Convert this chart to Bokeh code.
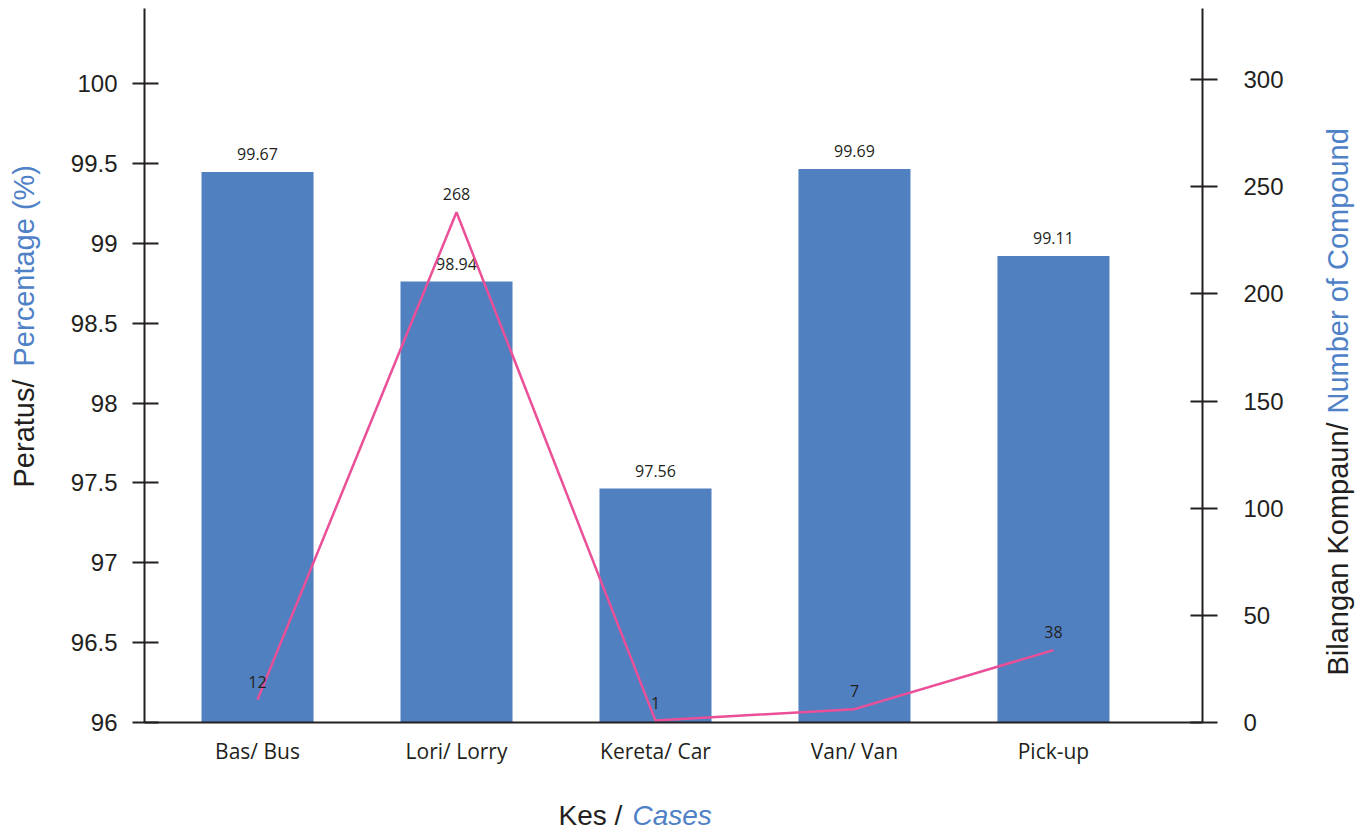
import math
from bokeh.plotting import figure
from bokeh.models import Range1d, LinearAxis, FixedTicker, NumeralTickFormatter, Label, ColumnDataSource
from bokeh.core.properties import value
from bokeh.embed import file_html
from bokeh.resources import INLINE

# ---- data ----
categories = ["Bas/ Bus", "Lori/ Lorry", "Kereta/ Car", "Van/ Van", "Pick-up"]
percentage = [99.67, 98.94, 97.56, 99.69, 99.11]
compounds = [12, 268, 1, 7, 38]
left_ticks = [96, 96.5, 97, 97.5, 98, 98.5, 99, 99.5, 100]
right_ticks = [0, 50, 100, 150, 200, 250, 300]

TXT = "#231f20"
BLUE_TXT = "#4f81c7"
BAR = "#5180c1"
LINE = "#ea4f97"

FL, FR, FT, FB = 144, 1202, 8, 722  # frame edges on the canvas
W, H = 1365, 832

xs = list(range(len(categories)))
src = ColumnDataSource(dict(
    x=xs,
    pct=percentage,
    pct_lbl=[f"{v:.2f}" for v in percentage],
    cnt=compounds,
    cnt_lbl=[str(v) for v in compounds],
))

p = figure(width=W, height=H, output_backend="svg", toolbar_location=None,
           title=None,
           x_range=Range1d(-0.568, 4.749), y_range=Range1d(96, 100.47),
           min_border_left=FL, min_border_right=W - FR, min_border_top=FT, min_border_bottom=H - FB)
p.extra_y_ranges = {
    "bars": Range1d(96, 100.76),
    "line": Range1d(0, 375),
    "right": Range1d(0, 333.2),
    "cy": Range1d(FB, FT),   # canvas pixel coordinates (for axis titles)
}
p.extra_x_ranges = {"cx": Range1d(FL, FR)}
p.outline_line_color = None
p.xgrid.visible = False
p.ygrid.visible = False
p.background_fill_color = "white"
p.border_fill_color = "white"

# bars
p.vbar(x="x", top="pct", bottom=96, width=0.563, y_range_name="bars", source=src,
       fill_color=BAR, line_color=None)
p.text(x="x", y="pct", text="pct_lbl", y_range_name="bars", source=src,
       y_offset=-18, text_align="center", text_baseline="middle",
       text_font=value("Open Sans"), text_font_size="16px", text_color=TXT)

# line
p.line(x="x", y="cnt", y_range_name="line", source=src, line_color=LINE, line_width=2.5)
p.text(x="x", y="cnt", text="cnt_lbl", y_range_name="line", source=src,
       y_offset=-18, text_align="center", text_baseline="middle",
       text_font=value("Open Sans"), text_font_size="16px", text_color=TXT)

# bottom axis
xa = p.xaxis[0]
xa.ticker = FixedTicker(ticks=xs)
xa.major_label_overrides = {i: c for i, c in enumerate(categories)}
xa.major_tick_in = 0
xa.major_tick_out = 0
xa.minor_tick_in = 0
xa.minor_tick_out = 0
xa.axis_line_color = TXT
xa.axis_line_width = 2
xa.major_label_standoff = 14
xa.major_label_text_font = "Open Sans"
xa.major_label_text_font_size = "21px"
xa.major_label_text_color = TXT

# left axis
ya = p.yaxis[0]
ya.ticker = FixedTicker(ticks=left_ticks)
ya.formatter = NumeralTickFormatter(format="0.[0]")
ya.major_tick_in = 14
ya.major_tick_out = 12
ya.minor_tick_in = 0
ya.minor_tick_out = 0
ya.major_tick_line_width = 2
ya.major_tick_line_color = TXT
ya.axis_line_color = TXT
ya.axis_line_width = 2
ya.major_label_standoff = 15
ya.major_label_text_font = "Liberation Sans"
ya.major_label_text_font_size = "24px"
ya.major_label_text_color = TXT

# right axis
ra = LinearAxis(y_range_name="right", ticker=FixedTicker(ticks=right_ticks))
ra.major_tick_in = 12
ra.major_tick_out = 15
ra.minor_tick_in = 0
ra.minor_tick_out = 0
ra.major_tick_line_width = 2
ra.major_tick_line_color = TXT
ra.axis_line_color = TXT
ra.axis_line_width = 2
ra.major_label_standoff = 26
ra.major_label_text_font = "Liberation Sans"
ra.major_label_text_font_size = "24px"
ra.major_label_text_color = TXT
p.add_layout(ra, "right")

# axis titles (two colours); placed in side panels so they are not clipped
def lbl(side, x, y, text, color, angle=0.0, style="normal", size="29px"):
    p.add_layout(Label(x=x, y=y, x_range_name="cx", y_range_name="cy", text=text,
                       angle=angle, text_align="left", text_baseline="alphabetic",
                       text_font="Liberation Sans", text_font_size=size,
                       text_color=color, text_font_style=style), side)

lbl("left", 23, 487, "Peratus/", TXT, angle=math.pi / 2)
lbl("left", 23, 366, "Percentage (%)", BLUE_TXT, angle=math.pi / 2)
lbl("right", 1337, 675, "Bilangan Kompaun/", TXT, angle=math.pi / 2)
lbl("right", 1337, 413, "Number of Compound", BLUE_TXT, angle=math.pi / 2)
lbl("below", 558, 815, "Kes /", TXT, size="28px")
lbl("below", 632, 815, "Cases", BLUE_TXT, style="italic", size="28px")

open("out.html", "w").write(file_html(p, INLINE))
